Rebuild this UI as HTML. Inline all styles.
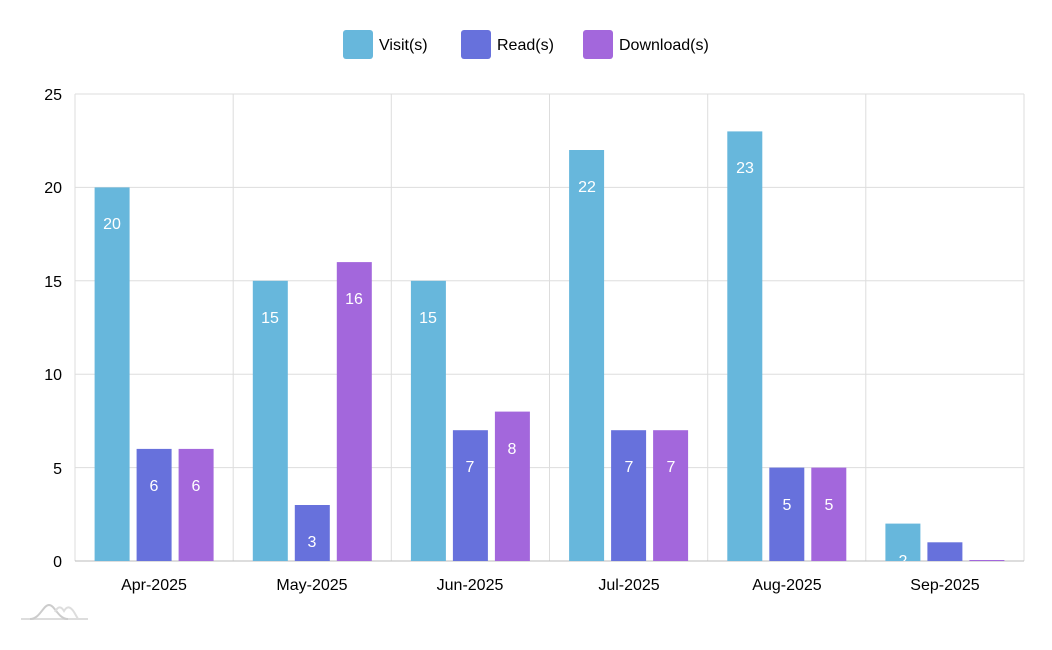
<!DOCTYPE html>
<html><head><style>body{margin:0;background:#fff}svg{display:block;font-family:"Liberation Sans Narrow","Liberation Sans",sans-serif}</style></head><body>
<svg width="1052" height="650" viewBox="0 0 1052 650">
<defs><clipPath id="c"><rect x="75" y="90" width="950" height="471"/></clipPath></defs>
<g stroke="#ddd" stroke-width="1">
<line x1="75" y1="94" x2="1024" y2="94"/><line x1="75" y1="187.4" x2="1024" y2="187.4"/><line x1="75" y1="280.8" x2="1024" y2="280.8"/><line x1="75" y1="374.2" x2="1024" y2="374.2"/><line x1="75" y1="467.6" x2="1024" y2="467.6"/>
<line x1="75" y1="94" x2="75" y2="561"/><line x1="233.2" y1="94" x2="233.2" y2="561"/><line x1="391.3" y1="94" x2="391.3" y2="561"/><line x1="549.5" y1="94" x2="549.5" y2="561"/><line x1="707.7" y1="94" x2="707.7" y2="561"/><line x1="865.8" y1="94" x2="865.8" y2="561"/><line x1="1024" y1="94" x2="1024" y2="561"/>
</g>
<line x1="75" y1="561" x2="1024" y2="561" stroke="#bbb"/>
<g font-size="16" text-anchor="end" fill="#000">
<text x="62" y="100">25</text><text x="62" y="193">20</text><text x="62" y="287">15</text><text x="62" y="380">10</text><text x="62" y="474">5</text><text x="62" y="567">0</text></g>
<g font-size="16" text-anchor="middle" fill="#000">
<text x="154" y="590">Apr-2025</text><text x="312" y="590">May-2025</text><text x="470" y="590">Jun-2025</text><text x="629" y="590">Jul-2025</text><text x="787" y="590">Aug-2025</text><text x="945" y="590">Sep-2025</text></g>
<g fill="#67b7dc">
<rect x="94.6" y="187.4" width="35" height="373.6"/><rect x="252.8" y="280.8" width="35" height="280.2"/><rect x="410.9" y="280.8" width="35" height="280.2"/><rect x="569.1" y="150" width="35" height="411"/><rect x="727.3" y="131.4" width="35" height="429.6"/><rect x="885.4" y="523.6" width="35" height="37.4"/></g>
<g fill="#6771dc">
<rect x="136.6" y="448.9" width="35" height="112.1"/><rect x="294.8" y="505" width="35" height="56"/><rect x="452.9" y="430.2" width="35" height="130.8"/><rect x="611.1" y="430.2" width="35" height="130.8"/><rect x="769.3" y="467.6" width="35" height="93.4"/><rect x="927.4" y="542.3" width="35" height="18.7"/></g>
<g fill="#a367dc">
<rect x="178.6" y="448.9" width="35" height="112.1"/><rect x="336.8" y="262.1" width="35" height="298.9"/><rect x="494.9" y="411.6" width="35" height="149.4"/><rect x="653.1" y="430.2" width="35" height="130.8"/><rect x="811.3" y="467.6" width="35" height="93.4"/><rect x="969.4" y="560" width="35" height="1"/></g>
<g font-size="16" fill="#fff" text-anchor="middle" clip-path="url(#c)">
<text x="112" y="229">20</text><text x="154" y="491">6</text><text x="196" y="491">6</text>
<text x="270" y="323">15</text><text x="312" y="547">3</text><text x="354" y="304">16</text>
<text x="428" y="323">15</text><text x="470" y="472">7</text><text x="512" y="454">8</text>
<text x="587" y="192">22</text><text x="629" y="472">7</text><text x="671" y="472">7</text>
<text x="745" y="173">23</text><text x="787" y="510">5</text><text x="829" y="510">5</text>
<text x="903" y="566">2</text></g>
<g font-size="16" fill="#000">
<rect x="343" y="30" width="30" height="29" rx="3" fill="#67b7dc"/><text x="379" y="50">Visit(s)</text>
<rect x="461" y="30" width="30" height="29" rx="3" fill="#6771dc"/><text x="497" y="50">Read(s)</text>
<rect x="583" y="30" width="30" height="29" rx="3" fill="#a367dc"/><text x="619" y="50">Download(s)</text></g>
<g fill="none" stroke-width="2">
<path d="M21 619 H88" stroke="#ddd"/>
<path d="M30 619 C40 619 43 605 49 605 C55 605 58 619 68 619" stroke="#ccc"/>
<path d="M55 612 C58 606 61 606 64 611 C67 606 70 606 74 612 L78 619" stroke="#ddd"/>
</g>
</svg>
</body></html>
